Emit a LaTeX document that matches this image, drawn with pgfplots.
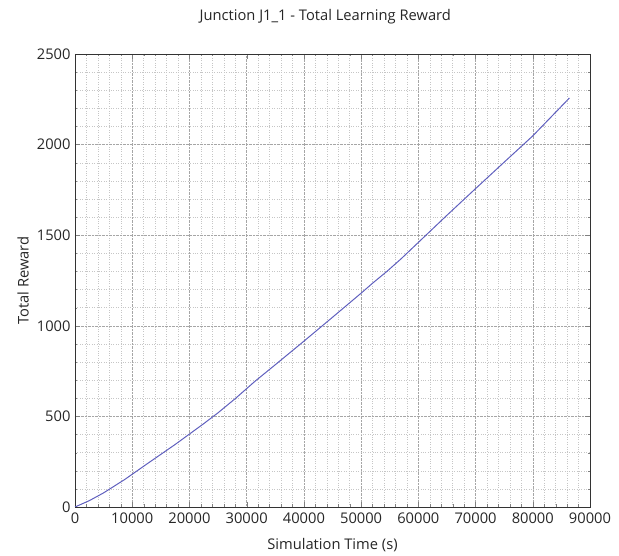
\documentclass[border=0pt]{standalone}
\usepackage{fontspec}
\setmainfont{Open Sans}
\usepackage{pgfplots}
\pgfplotsset{compat=1.18}
\begin{document}
\begin{tikzpicture}
\begin{axis}[
  name=ax,
  scale only axis,
  width=515pt, height=453pt,
  xmin=0, xmax=90000, ymin=0, ymax=2500,
  xtick={0,10000,...,90000},
  ytick={0,500,...,2500},
  minor x tick num=4,
  minor y tick num=4,
  scaled x ticks=false,
  xticklabel style={/pgf/number format/fixed,/pgf/number format/1000 sep={}},
  yticklabel style={/pgf/number format/fixed,/pgf/number format/1000 sep={}},
  /pgf/number format/assume math mode=true,
  tick label style={font=\fontsize{14.7}{16}\selectfont, text=black!85},
  label style={font=\fontsize{14.7}{16}\selectfont, text=black!85},
  title style={font=\fontsize{14.7}{16}\selectfont, text=black!85, at={(0.486,1)}, anchor=center, yshift=31pt},
  title={Junction J1\_1 - Total Learning Reward},
  xlabel={Simulation Time (s)},
  ylabel={Total Reward},
  xlabel style={at={(0.5,0)}, anchor=center, yshift=-38pt},
  ylabel style={at={(0,0.5)}, anchor=center, yshift=52pt},
  yticklabel style={anchor=east, xshift=-1pt},
  xticklabel style={anchor=north, yshift=-2pt},
  grid=both,
  major grid style={gray!70, densely dotted, line width=0.5pt},
  minor grid style={gray!45, dotted, line width=0.4pt},
  tick align=inside,
  axis line style={black!80, line width=0.8pt},
  major tick length=5pt, minor tick length=2.5pt,
]
\addplot[color={rgb,255:red,95;green,95;blue,190}, line width=1pt] coordinates {
(0,0) (2500,35) (5000,78) (8700,152) (12500,236) (17500,345) (22500,460)
(25000,520) (28000,598) (31500,695) (35000,785) (40000,915) (45000,1047) (50000,1180)
(52000,1235) (54500,1300) (57000,1370) (60000,1460) (65000,1610) (70000,1757) (75000,1903)
(80000,2048) (86400,2257)
};
\end{axis}
\pgfresetboundingbox
\path ([xshift=-75pt,yshift=-49pt]ax.south west) rectangle ([xshift=29pt,yshift=54pt]ax.north east);
\end{tikzpicture}
\end{document}
